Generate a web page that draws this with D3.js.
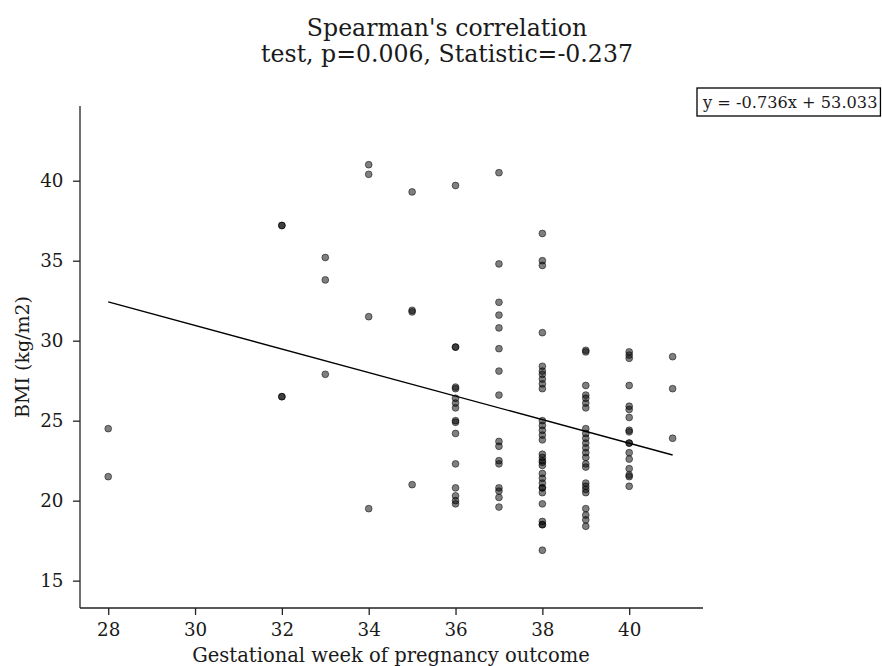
<!DOCTYPE html>
<html>
<head>
<meta charset="utf-8">
<script src="https://cdn.jsdelivr.net/npm/d3@7"></script>
<style>
  html, body { margin: 0; padding: 0; background: #fff; }
  svg { display: block; }
  text { font-family: "DejaVu Serif", serif; fill: #1a1a1a; }
</style>
</head>
<body>
<div id="chart"></div>
<script>
// ---- data ----
const titleLines = ["Spearman's correlation", "test, p=0.006, Statistic=-0.237"];
const xLabel = "Gestational week of pregnancy outcome";
const yLabel = "BMI (kg/m2)";
const equationText = "y = -0.736x + 53.033";
const slope = -0.736;
const intercept = 53.033;
const xTicks = [28, 30, 32, 34, 36, 38, 40];
const yTicks = [15, 20, 25, 30, 35, 40];

const week28 = [24.5, 21.5];
const week32 = [37.2, 37.2, 26.5, 26.5];
const week33 = [35.2, 33.8, 27.9];
const week34 = [41.0, 40.4, 31.5, 19.5];
const week35 = [39.3, 31.9, 31.8, 21.0];
const week36 = [39.7, 29.6, 29.6, 27.1, 27.0, 26.4, 26.1, 25.8, 25.0, 24.9, 24.2, 22.3, 20.8, 20.3, 20.0, 19.8];
const week37 = [40.5, 34.8, 32.4, 31.6, 30.8, 29.5, 28.1, 26.6, 23.7, 23.4, 22.5, 22.3, 20.8, 20.6, 20.2, 19.6];
const week38 = [36.7, 35.0, 34.7, 30.5, 28.4, 28.1, 27.9, 27.6, 27.3, 27.0, 25.0, 24.7, 24.4, 24.1, 23.8, 22.9, 22.7, 22.5, 22.4, 22.2, 21.7, 21.4, 21.1, 20.8, 20.8, 20.5, 19.8, 18.7, 18.5, 18.5, 16.9];
const week39 = [29.4, 29.3, 27.2, 26.6, 26.4, 26.1, 25.8, 24.5, 24.2, 23.9, 23.6, 23.3, 23.0, 22.7, 22.3, 22.1, 21.1, 20.9, 20.7, 20.5, 19.5, 19.1, 18.8, 18.4];
const week40 = [29.3, 29.1, 28.9, 27.2, 25.9, 25.7, 25.2, 24.4, 24.3, 23.6, 23.6, 23.0, 22.6, 22.0, 21.6, 21.5, 20.9];
const week41 = [29.0, 27.0, 23.9];

const groups = [
  [28, week28], [32, week32], [33, week33], [34, week34], [35, week35],
  [36, week36], [37, week37], [38, week38], [39, week39], [40, week40], [41, week41]
];
const points = [];
groups.forEach(([w, vals]) => vals.forEach(v => points.push({ x: w, y: v })));

// ---- layout ----
const W = 882, H = 666;
const svg = d3.select("#chart").append("svg").attr("width", W).attr("height", H);

const x = d3.scaleLinear().domain([27.35, 41.7]).range([80, 703]);
const y = d3.scaleLinear().domain([13.29, 44.67]).range([608, 106]);

// title
svg.append("text")
  .attr("x", 447).attr("y", 35.5)
  .attr("text-anchor", "middle").style("font-size", "23.6px")
  .text(titleLines[0]);
svg.append("text")
  .attr("x", 447).attr("y", 61.5)
  .attr("text-anchor", "middle").style("font-size", "23.6px")
  .text(titleLines[1]);

// axes
const xAxis = d3.axisBottom(x).tickValues(xTicks).tickFormat(d3.format("d")).tickSize(7).tickPadding(8.5);
const yAxis = d3.axisLeft(y).tickValues(yTicks).tickFormat(d3.format("d")).tickSize(7).tickPadding(9.5);

const gx = svg.append("g").attr("transform", "translate(0,608)").call(xAxis);
const gy = svg.append("g").attr("transform", "translate(80,0)").call(yAxis);
[gx, gy].forEach(g => {
  g.select(".domain").attr("stroke", "#222").attr("stroke-width", 1.3);
  g.selectAll(".tick line").attr("stroke", "#222").attr("stroke-width", 1.3);
  g.selectAll(".tick text").style("font-family", "DejaVu Serif").style("font-size", "18.3px").attr("fill", "#1a1a1a");
});
gx.select(".domain").attr("d", `M${x.range()[0]},0H${x.range()[1]}`);
gy.select(".domain").attr("d", `M0,${y.range()[0]}V${y.range()[1]}`);

// axis labels
svg.append("text")
  .attr("x", 391).attr("y", 662)
  .attr("text-anchor", "middle").style("font-size", "19.5px")
  .text(xLabel);
svg.append("text")
  .attr("transform", `translate(29,357) rotate(-90)`)
  .attr("text-anchor", "middle").style("font-size", "19px")
  .text(yLabel);

// points
svg.append("g").selectAll("circle").data(points).join("circle")
  .attr("cx", d => x(d.x)).attr("cy", d => y(d.y))
  .attr("r", 3.4)
  .attr("fill", "#000").attr("fill-opacity", 0.5)
  .attr("stroke", "#000").attr("stroke-opacity", 0.5).attr("stroke-width", 1);

// regression line
const xMin = d3.min(points, d => d.x), xMax = d3.max(points, d => d.x);
svg.append("line")
  .attr("x1", x(xMin)).attr("y1", y(slope * xMin + intercept))
  .attr("x2", x(xMax)).attr("y2", y(slope * xMax + intercept))
  .attr("stroke", "#000").attr("stroke-width", 1.4);

// equation box
const eqG = svg.append("g");
const eqText = eqG.append("text")
  .attr("x", 703).attr("y", 108)
  .style("font-size", "16.2px")
  .text(equationText);
const bb = eqText.node().getBBox();
eqG.insert("rect", "text")
  .attr("x", 697).attr("y", 88)
  .attr("width", Math.max(bb.x + bb.width + 3 - 697, 10)).attr("height", 28)
  .attr("fill", "#fff").attr("stroke", "#000").attr("stroke-width", 1.3);
</script>
</body>
</html>
